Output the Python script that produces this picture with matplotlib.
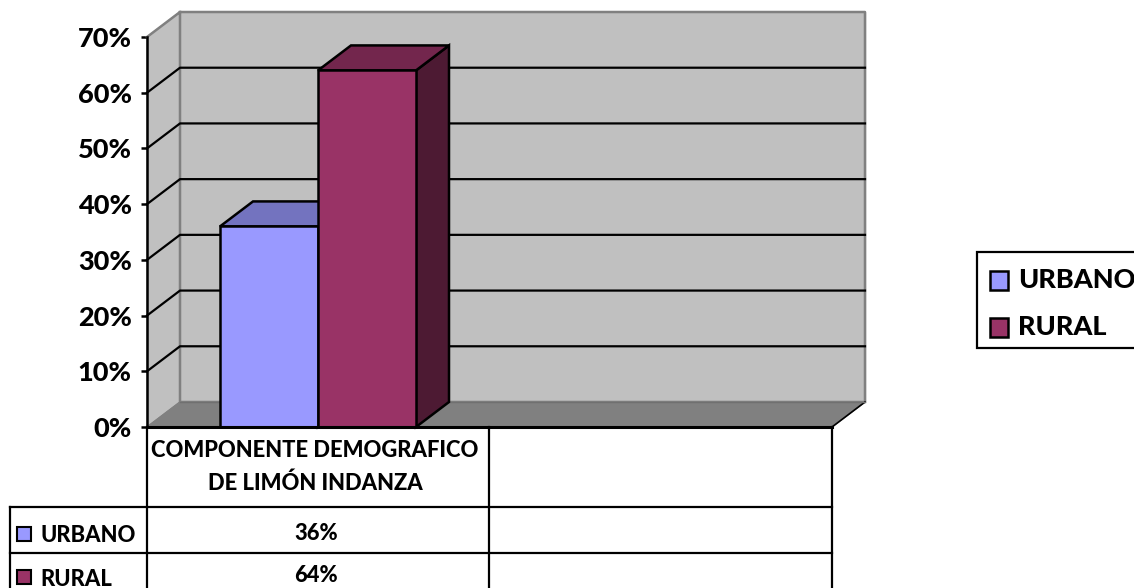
import matplotlib
matplotlib.use("Agg")
import matplotlib.pyplot as plt
from matplotlib.patches import Rectangle

plt.rcParams['font.family'] = ['Lato', 'DejaVu Sans']

categories = ["COMPONENTE DEMOGRAFICO\nDE LIMÓN INDANZA", ""]
series_names = ["URBANO", "RURAL"]
series_values = [36, 64]
series_labels = ["36%", "64%"]
y_ticks = [0, 10, 20, 30, 40, 50, 60, 70]
y_tick_labels = ["0%", "10%", "20%", "30%", "40%", "50%", "60%", "70%"]

front = ["#9999FF", "#993366"]
top = ["#7373BF", "#73264D"]
side = ["#4D4D80", "#4D1A33"]

W, H = 1134, 588
fig = plt.figure(figsize=(W / 100, H / 100), dpi=100)

# main axes is the front plane of the 3d box
ax = fig.add_axes([147 / W, 1 - 427 / H, 685 / W, 390 / H])
ax.set_xlim(0, 2)
ax.set_ylim(0, 70)
ax.patch.set_visible(False)
ax.set_xticks([])
ax.set_yticks(y_ticks)
ax.set_yticklabels(y_tick_labels, fontsize=19.5, fontweight='black')
ax.tick_params(axis='y', length=4, width=1.8, pad=7)
for s in ['top', 'right', 'bottom']:
    ax.spines[s].set_visible(False)
ax.spines['left'].set_linewidth(1.8)

# depth of the box in data units
dx = 33 / 342.5
dy = 25 / 5.571

# walls
ax.fill([0, dx, dx, 0], [0, dy, 70 + dy, 70], color='#C0C0C0', zorder=1, clip_on=False)
ax.fill([dx, 2 + dx, 2 + dx, dx], [dy, dy, 70 + dy, 70 + dy], color='#C0C0C0', zorder=1, clip_on=False)
ax.fill([0, 2, 2 + dx, dx], [0, 0, dy, dy], color='#808080', zorder=1, clip_on=False)
ax.plot([0, dx, 2 + dx, 2 + dx, dx, dx], [70, 70 + dy, 70 + dy, dy, dy, 70 + dy],
        color='#808080', lw=1.8, zorder=2, clip_on=False)
ax.plot([dx, 0], [dy, 0], color='#808080', lw=1, zorder=2, clip_on=False)
ax.plot([2, 2 + dx], [0, dy], color='black', lw=1.2, zorder=2, clip_on=False)
ax.plot([dx, 2 + dx], [dy, dy], color='#707070', lw=1, zorder=2, clip_on=False)

# gridlines
for t in y_ticks[1:-1]:
    ax.plot([0, dx, 2 + dx], [t, t + dy, t + dy], color='black', lw=1.6, zorder=3, clip_on=False)

# bars
bar_w = 98 / 342.5
start = 73 / 342.5
for i, v in enumerate(series_values):
    x0 = start + i * bar_w
    x1 = x0 + bar_w
    ax.fill([x1, x1 + dx, x1 + dx, x1], [0, dy, v + dy, v], facecolor=side[i],
            edgecolor='black', lw=1.8, zorder=4 + i, clip_on=False)
    ax.fill([x0, x1, x1 + dx, x0 + dx], [v, v, v + dy, v + dy], facecolor=top[i],
            edgecolor='black', lw=1.8, zorder=4 + i, clip_on=False)
    ax.bar(x0, v, width=bar_w, align='edge', color=front[i], edgecolor='black',
           lw=1.8, zorder=4 + i, clip_on=False)

# overlay in pixel units for the data table and legend
ov = fig.add_axes([0, 0, 1, 1])
ov.set_xlim(0, W)
ov.set_ylim(H, 0)
ov.axis('off')
ov.patch.set_visible(False)

lw = 1.6
ov.plot([147, 832], [427, 427], color='black', lw=2.2)
ov.plot([10, 832], [507, 507], color='black', lw=lw)
ov.plot([10, 832], [553, 553], color='black', lw=lw)
ov.plot([10, 10], [507, 588], color='black', lw=lw)
for x in [147, 489, 832]:
    ov.plot([x, x], [427, 588], color='black', lw=lw)

ov.text(315, 467, categories[0], ha='center', va='center', fontsize=15.8,
        fontweight='black', linespacing=1.7)
ov.text(660, 467, categories[1], ha='center', va='center', fontsize=15.8, fontweight='black')

row_y = [535, 578]
for i, name in enumerate(series_names):
    y = row_y[i]
    ov.add_patch(Rectangle((17, y - 8), 14, 14, facecolor=front[i], edgecolor='black', lw=1.5))
    ov.text(40, y + 1, name, ha='left', va='center', fontsize=15.8, fontweight='black')
    ov.text(316, y - 2, series_labels[i], ha='center', va='center', fontsize=15.8, fontweight='black')

# legend box runs off the right edge
ov.add_patch(Rectangle((977, 252), 170, 96, facecolor='white', edgecolor='black', lw=1.6, clip_on=True))
leg_y = [280, 327]
for i, name in enumerate(series_names):
    ov.add_patch(Rectangle((990, leg_y[i] - 9.5), 18, 19, facecolor=front[i], edgecolor='black', lw=1.8))
    ov.text(1018, leg_y[i], name, ha='left', va='center', fontsize=19.5, fontweight='black')

fig.savefig("out.png", dpi=100)
